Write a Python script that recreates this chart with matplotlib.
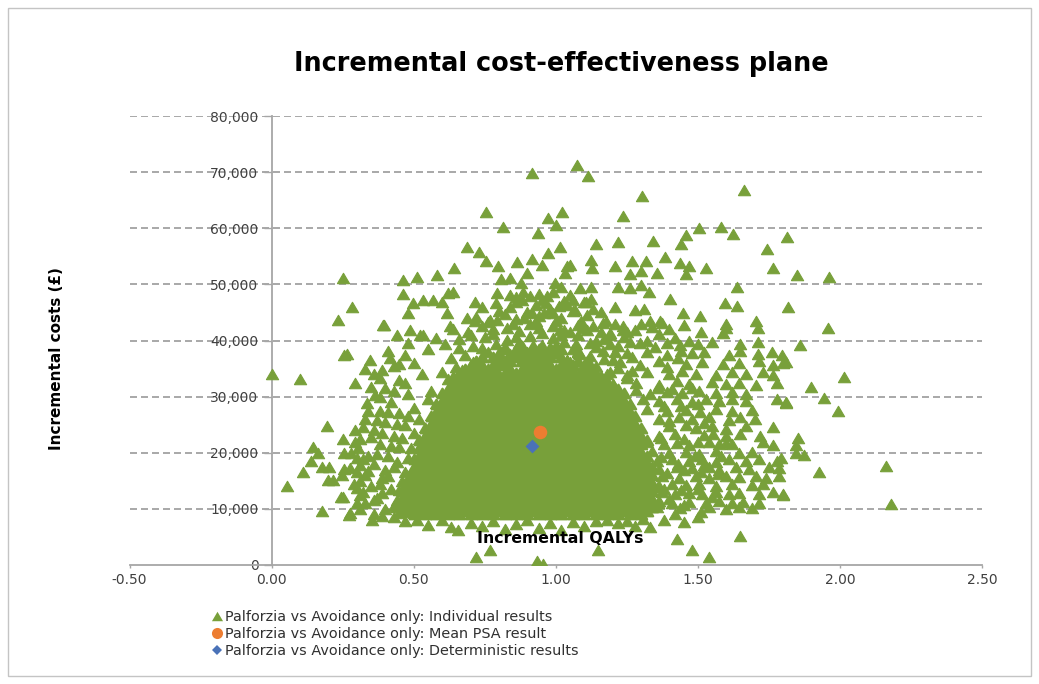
import matplotlib
matplotlib.use("Agg")
import matplotlib.pyplot as plt
from matplotlib.ticker import FuncFormatter, MultipleLocator
from matplotlib.lines import Line2D
from matplotlib.patches import Rectangle

GREEN = "#78a03a"
ORANGE = "#ed7d31"
BLUE = "#4a72b8"
TEXT = "#404040"

# PSA iterations: (incremental QALYs, incremental cost in £ thousands)
upper_sims = [
    (1.074, 71.3), (1.112, 69.3), (0.915, 69.8), (0.753, 62.9), (0.813, 60.3), (1.023, 62.9),
    (0.974, 61.8), (1.002, 60.5), (0.939, 59.1), (1.303, 65.8), (1.661, 66.8), (1.237, 62.2),
    (1.581, 60.3), (1.503, 60.1), (1.623, 58.9), (1.459, 58.8), (1.815, 58.5), (1.743, 56.3),
    (1.764, 52.9), (1.848, 51.7), (1.963, 51.4), (1.143, 57.2), (1.219, 57.6), (1.342, 57.8),
    (1.442, 57.2), (1.383, 54.8), (1.527, 53.0), (1.639, 49.6), (1.817, 45.9), (1.957, 42.2),
    (1.596, 46.6), (1.639, 46.2), (1.207, 53.2), (1.270, 54.1), (1.316, 54.1), (1.301, 52.3),
    (1.260, 51.9), (1.356, 52.0), (1.436, 53.8), (1.469, 53.2), (1.457, 51.9), (1.123, 54.4),
    (1.049, 53.5), (1.032, 52.0), (1.129, 52.9), (1.014, 56.7), (0.252, 51.1), (0.284, 46.0),
    (0.233, 43.7), (0.463, 50.7), (0.510, 51.3), (0.581, 51.6), (0.643, 52.9), (0.686, 56.7),
    (0.730, 55.7), (0.754, 54.1), (0.797, 53.2), (0.862, 54.0), (0.915, 54.5), (0.973, 55.6),
    (0.950, 53.5), (1.038, 53.2), (0.463, 48.3), (0.498, 46.6), (0.481, 44.9), (0.397, 42.8),
    (0.440, 41.0), (0.487, 41.9), (0.534, 47.2), (0.569, 47.2), (0.598, 46.8), (0.621, 48.4),
    (0.639, 48.7), (0.715, 46.8), (0.739, 45.9), (0.686, 44.0), (0.715, 43.4), (0.792, 48.4),
    (0.838, 48.1), (0.860, 47.8), (0.899, 52.0), (0.806, 51.0), (0.838, 51.2), (0.879, 50.3),
    (0.885, 48.7), (0.941, 48.3), (0.967, 46.6), (0.996, 50.3), (1.020, 49.6), (1.061, 47.2),
    (0.792, 43.7), (0.616, 44.9), (0.627, 42.5), (0.915, 44.9), (0.932, 43.4), (0.990, 44.9),
    (1.014, 41.9), (0.534, 41.0), (1.401, 47.4), (1.366, 43.4), (1.448, 44.9), (1.506, 44.4),
    (1.600, 42.2), (1.705, 43.4), (1.207, 46.0), (1.278, 45.5), (1.310, 45.7), (1.330, 43.4),
    (1.237, 41.9), (1.178, 43.4), (1.108, 46.9), (1.125, 47.4), (1.067, 45.5), (1.084, 49.3),
    (1.125, 49.6), (1.219, 49.6), (1.260, 49.3), (1.300, 49.9), (1.328, 48.7), (1.110, 41.9),
    (1.280, 41.9), (1.510, 41.5), (1.400, 42.0),
]

upper_core_sims = [
    (0.60, 34.3), (0.65, 35.2), (0.69, 33.9), (0.73, 35.6), (0.77, 34.4), (0.81, 35.9),
    (0.85, 34.1), (0.89, 35.4), (0.93, 34.6), (0.97, 35.8), (1.01, 34.2), (1.05, 35.3),
    (1.09, 34.7), (1.14, 35.5), (1.18, 34.0), (1.22, 35.1), (1.27, 34.6),
    (0.63, 36.9), (0.68, 37.5), (0.72, 36.4), (0.76, 38.0), (0.80, 36.8), (0.84, 37.6),
    (0.88, 36.5), (0.92, 38.2), (0.96, 37.0), (1.00, 37.7), (1.04, 36.6), (1.08, 38.1),
    (1.12, 37.2), (1.17, 36.7), (1.21, 38.0), (1.27, 37.0),
    (0.61, 39.4), (0.66, 40.2), (0.71, 39.0), (0.75, 40.6), (0.79, 39.3), (0.83, 40.1),
    (0.87, 39.6), (0.91, 40.8), (0.95, 39.2), (0.99, 40.4), (1.03, 39.7), (1.08, 40.9),
    (1.12, 39.5), (1.17, 40.3), (1.22, 39.1),
    (0.64, 42.0), (0.69, 41.5), (0.74, 42.6), (0.78, 41.2), (0.83, 42.3), (0.87, 41.7),
    (0.91, 42.9), (0.95, 41.4), (0.99, 42.5), (1.03, 41.8), (1.08, 42.7), (1.16, 41.6),
    (1.21, 42.9),
    (0.72, 44.2), (0.77, 43.6), (0.82, 44.8), (0.86, 43.9), (0.90, 45.1), (0.94, 44.4),
    (0.98, 45.6), (1.02, 44.0), (1.06, 45.3), (1.11, 44.6), (1.16, 45.0),
    (0.79, 46.6), (0.84, 45.9), (0.88, 47.2), (0.93, 46.4), (0.97, 47.9), (1.01, 46.2),
    (1.05, 48.1), (1.10, 46.9),
    (0.62, 33.2), (0.67, 34.8), (0.71, 36.2), (0.75, 33.4), (0.79, 35.0), (0.83, 36.9),
    (0.87, 33.6), (0.91, 35.0), (0.95, 36.3), (0.99, 33.5), (1.03, 36.0), (1.07, 33.8),
    (1.11, 36.4), (1.16, 33.6), (1.20, 36.5), (1.25, 33.3),
    (0.66, 38.6), (0.70, 41.0), (0.74, 38.7), (0.78, 42.0), (0.82, 38.8), (0.86, 40.7),
    (0.90, 38.0), (0.94, 42.3), (0.98, 38.9), (1.02, 41.0), (1.06, 38.5), (1.10, 42.2),
    (1.14, 38.9), (1.19, 41.3), (1.24, 40.6),
    (0.76, 43.3), (0.80, 45.2), (0.85, 43.0), (0.89, 44.0), (0.93, 43.1), (0.96, 44.9),
    (1.00, 43.4), (1.04, 46.3), (1.09, 43.5), (1.13, 45.7),
    (0.86, 46.9), (0.91, 48.0), (0.95, 47.3), (0.99, 48.6), (1.03, 47.0),
]

right_sims = [
    (1.13, 42.6), (1.165, 43.1), (1.235, 42.5), (1.30, 43.0), (1.34, 42.4), (1.375, 43.2),
    (1.453, 42.7), (1.60, 42.9), (1.71, 42.3), (1.05, 41.5), (1.19, 41.0), (1.25, 41.6),
    (1.365, 41.1), (1.587, 41.4), (1.07, 39.4), (1.14, 39.9), (1.19, 39.3), (1.26, 39.8),
    (1.295, 39.5), (1.32, 40.0), (1.39, 39.6), (1.436, 39.2), (1.47, 39.9), (1.50, 39.4),
    (1.55, 39.7), (1.65, 39.3), (1.71, 39.8), (1.085, 37.6), (1.165, 38.1), (1.25, 37.7),
    (1.32, 38.0), (1.39, 37.5), (1.44, 38.2), (1.48, 37.7), (1.52, 37.9), (1.61, 37.5),
    (1.65, 38.1), (1.71, 37.6), (1.76, 38.0), (1.795, 37.4), (1.05, 36.2), (1.12, 35.8),
    (1.225, 36.1), (1.295, 35.7), (1.365, 36.3), (1.46, 35.9), (1.515, 36.2), (1.587, 35.8),
    (1.646, 36.0), (1.717, 36.3), (1.763, 35.7), (1.812, 36.1), (1.085, 34.0), (1.19, 34.4),
    (1.25, 33.9), (1.32, 34.3), (1.40, 34.0), (1.446, 34.5), (1.495, 34.1), (1.565, 33.9),
    (1.62, 34.4), (1.67, 34.0), (1.73, 34.3), (1.763, 33.8), (1.13, 32.6), (1.20, 32.2),
    (1.284, 32.5), (1.365, 32.1), (1.425, 32.7), (1.47, 32.3), (1.55, 32.6), (1.60, 32.2),
    (1.646, 32.5), (1.705, 32.0), (1.777, 32.4), (1.04, 30.6), (1.11, 31.0), (1.19, 30.7),
    (1.284, 31.1), (1.33, 30.5), (1.39, 30.9), (1.446, 30.6), (1.505, 31.0), (1.565, 30.7),
    (1.62, 30.9), (1.67, 30.5), (1.306, 29.6), (1.365, 29.2), (1.425, 29.5), (1.48, 29.1),
    (1.53, 29.6), (1.576, 29.3), (1.62, 29.5), (1.67, 29.2), (1.777, 29.6), (1.81, 29.0),
    (1.32, 27.8), (1.39, 27.4), (1.46, 27.7), (1.506, 27.3), (1.565, 27.8), (1.62, 27.5),
    (1.69, 27.7), (1.365, 26.0), (1.435, 26.4), (1.48, 26.1), (1.54, 26.3), (1.61, 25.9),
    (1.65, 26.4), (1.70, 26.0), (1.40, 24.8), (1.495, 24.4), (1.55, 24.7), (1.60, 24.3),
    (1.67, 24.8), (1.763, 24.5), (1.365, 23.0), (1.42, 23.4), (1.52, 23.1), (1.555, 23.4),
    (1.60, 22.9), (1.65, 23.3), (1.72, 23.0), (1.32, 21.9), (1.38, 21.5), (1.425, 21.8),
    (1.47, 21.4), (1.54, 21.9), (1.576, 21.5), (1.60, 21.8), (1.62, 21.6), (1.73, 21.9),
    (1.763, 21.4), (1.34, 20.3), (1.40, 19.9), (1.46, 20.2), (1.505, 19.8), (1.565, 20.3),
    (1.646, 20.0), (1.69, 20.2), (1.355, 18.5), (1.41, 18.9), (1.47, 18.6), (1.515, 18.8),
    (1.565, 18.4), (1.61, 18.9), (1.67, 18.5), (1.717, 18.8), (1.777, 18.6), (1.365, 17.1),
    (1.425, 17.5), (1.48, 17.2), (1.54, 17.4), (1.576, 17.0), (1.635, 17.5), (1.68, 17.1),
    (1.75, 17.4), (1.787, 17.2), (1.375, 15.9), (1.435, 15.5), (1.495, 15.8), (1.54, 15.5),
    (1.60, 15.9), (1.646, 15.6), (1.705, 15.9), (1.74, 15.5), (1.787, 15.8), (1.365, 14.1),
    (1.41, 14.5), (1.46, 14.2), (1.505, 14.4), (1.565, 14.0), (1.62, 14.5), (1.69, 14.2),
    (1.73, 14.4), (1.375, 13.0), (1.42, 12.6), (1.47, 12.9), (1.515, 12.6), (1.565, 13.0),
    (1.61, 12.7), (1.646, 12.9), (1.717, 12.6), (1.763, 13.0), (1.80, 12.7), (1.365, 11.4),
    (1.41, 11.0), (1.47, 11.3), (1.53, 11.0), (1.576, 11.4), (1.62, 11.1), (1.66, 11.3),
    (1.717, 11.0), (1.284, 10.0), (1.355, 10.4), (1.436, 10.1), (1.54, 10.3), (1.60, 10.0),
    (1.646, 10.4), (1.69, 10.1), (1.18, 8.0), (1.25, 7.8), (1.306, 8.2), (1.38, 8.0),
    (1.45, 7.7), (1.858, 39.2), (1.799, 36.0), (2.013, 33.5), (1.899, 31.7), (1.945, 29.7),
    (1.811, 28.9), (1.994, 27.5), (1.852, 22.6), (1.846, 21.4), (1.872, 19.6), (1.846, 19.9),
    (1.793, 19.0), (1.926, 16.5), (2.162, 17.7), (2.180, 10.8), (1.801, 12.5),
    (1.37, 19.3), (1.43, 18.0), (1.49, 19.4), (1.52, 17.9), (1.58, 19.5), (1.39, 16.4),
    (1.45, 16.9), (1.51, 16.6), (1.57, 16.3), (1.38, 13.6), (1.44, 13.3), (1.50, 13.6),
    (1.55, 12.2), (1.40, 11.8), (1.45, 10.7), (1.51, 9.5), (1.42, 9.0), (1.37, 22.6),
    (1.45, 22.5), (1.50, 22.0), (1.40, 25.6), (1.46, 24.9), (1.52, 25.3), (1.38, 28.4),
    (1.44, 28.3), (1.50, 28.6), (1.36, 31.6), (1.41, 31.4), (1.48, 31.5), (1.39, 35.2),
    (1.43, 36.8), (1.35, 38.9), (1.42, 40.5),
]

left_sims = [
    (0.000, 34.0), (0.100, 33.2), (0.264, 37.6), (0.255, 37.5), (0.293, 32.4), (0.194, 24.7),
    (0.250, 22.4), (0.293, 22.0), (0.147, 21.1), (0.165, 20.0), (0.138, 18.5), (0.112, 16.6),
    (0.176, 17.5), (0.202, 17.5), (0.255, 19.9), (0.255, 17.1), (0.247, 16.0), (0.200, 15.2),
    (0.217, 15.2), (0.053, 14.1), (0.244, 12.2), (0.176, 9.7), (0.273, 8.9), (0.293, 24.1),
    (0.30, 19.0), (0.31, 17.8), (0.30, 16.5), (0.31, 15.0), (0.30, 13.8), (0.31, 12.5),
    (0.30, 11.0), (0.31, 10.0), (0.393, 42.8), (0.522, 41.0), (0.346, 36.5), (0.416, 36.8),
    (0.381, 33.3), (0.364, 30.3), (0.335, 28.8), (0.305, 20.8), (0.276, 17.2), (0.276, 9.2),
    (0.352, 8.0), (0.44, 10.4), (0.51, 8.0), (0.252, 12.2), (0.33, 35.0), (0.36, 34.0),
    (0.43, 35.5), (0.47, 37.5), (0.50, 36.0), (0.45, 33.0), (0.40, 31.5), (0.48, 30.5),
    (0.42, 29.0), (0.38, 27.5), (0.45, 27.0), (0.50, 28.0), (0.33, 26.0), (0.40, 25.5),
    (0.47, 25.0), (0.36, 24.0), (0.43, 23.0), (0.50, 23.5), (0.31, 22.5), (0.38, 21.5),
    (0.45, 21.0), (0.34, 19.5), (0.41, 19.5), (0.48, 19.0), (0.36, 18.0), (0.43, 17.5),
    (0.50, 17.0), (0.33, 16.0), (0.39, 15.5), (0.46, 15.0), (0.35, 14.0), (0.42, 13.5),
    (0.49, 13.0), (0.37, 12.0), (0.44, 11.5), (0.33, 11.0), (0.40, 10.0), (0.47, 9.5),
    (0.36, 9.0), (0.43, 8.5), (0.29, 14.5), (0.28, 20.0), (0.55, 38.5), (0.58, 40.5),
    (0.53, 34.0), (0.56, 31.0), (0.52, 26.0), (0.55, 29.5),
    (0.32, 24.5), (0.35, 22.8), (0.39, 23.6), (0.42, 21.2), (0.46, 22.6), (0.49, 20.8),
    (0.32, 18.8), (0.37, 19.8), (0.40, 17.0), (0.44, 18.4), (0.47, 16.5), (0.34, 16.8),
    (0.38, 14.5), (0.41, 15.8), (0.45, 13.4), (0.48, 14.6), (0.32, 13.0), (0.36, 11.5),
    (0.39, 12.8), (0.43, 10.6), (0.46, 11.9), (0.39, 8.8), (0.45, 9.2), (0.34, 27.5),
    (0.37, 25.8), (0.41, 27.3), (0.44, 25.2), (0.48, 26.6), (0.35, 31.8), (0.38, 30.0),
    (0.43, 31.0), (0.47, 32.5), (0.39, 34.8), (0.45, 35.8), (0.41, 38.2), (0.48, 39.5),
]

lower_sims = [
    (0.47, 7.8), (0.55, 7.2), (0.60, 8.1), (0.633, 6.8), (0.657, 6.2), (0.70, 7.5),
    (0.74, 6.9), (0.78, 7.8), (0.82, 6.5), (0.86, 7.3), (0.90, 8.0), (0.94, 6.6),
    (0.98, 7.4), (1.02, 6.2), (1.06, 7.7), (1.10, 6.9), (1.14, 7.9), (1.22, 7.4),
    (1.28, 7.0), (1.33, 6.8), (1.50, 8.5), (0.721, 1.5), (0.768, 2.7), (0.935, 0.8),
    (0.955, 0.2), (1.149, 2.7), (1.426, 4.7), (1.479, 2.7), (1.539, 1.4), (1.649, 5.2),
]

# dense centre of the cloud, listed row by row: (cost £k, QALYs on that row)
core_rows = [
    (9.0, [0.50, 0.54, 0.58, 0.62, 0.66, 0.70, 0.74, 0.78, 0.82, 0.86, 0.90, 0.94, 0.98, 1.02, 1.06, 1.10, 1.14, 1.18, 1.22, 1.26, 1.30]),
    (9.7, [0.48, 0.52, 0.56, 0.60, 0.64, 0.68, 0.72, 0.76, 0.80, 0.84, 0.88, 0.92, 0.96, 1.00, 1.04, 1.08, 1.12, 1.16, 1.20, 1.24, 1.28, 1.32]),
    (10.4, [0.46, 0.50, 0.54, 0.58, 0.62, 0.66, 0.70, 0.74, 0.78, 0.82, 0.86, 0.90, 0.94, 0.98, 1.02, 1.06, 1.10, 1.14, 1.18, 1.22, 1.26, 1.30, 1.34]),
    (11.1, [0.48, 0.52, 0.56, 0.60, 0.64, 0.68, 0.72, 0.76, 0.80, 0.84, 0.88, 0.92, 0.96, 1.00, 1.04, 1.08, 1.12, 1.16, 1.20, 1.24, 1.28, 1.32, 1.36]),
    (11.8, [0.46, 0.50, 0.54, 0.58, 0.62, 0.66, 0.70, 0.74, 0.78, 0.82, 0.86, 0.90, 0.94, 0.98, 1.02, 1.06, 1.10, 1.14, 1.18, 1.22, 1.26, 1.30, 1.34]),
    (12.5, [0.48, 0.52, 0.56, 0.60, 0.64, 0.68, 0.72, 0.76, 0.80, 0.84, 0.88, 0.92, 0.96, 1.00, 1.04, 1.08, 1.12, 1.16, 1.20, 1.24, 1.28, 1.32]),
    (13.2, [0.46, 0.50, 0.54, 0.58, 0.62, 0.66, 0.70, 0.74, 0.78, 0.82, 0.86, 0.90, 0.94, 0.98, 1.02, 1.06, 1.10, 1.14, 1.18, 1.22, 1.26, 1.30, 1.34]),
    (13.9, [0.48, 0.52, 0.56, 0.60, 0.64, 0.68, 0.72, 0.76, 0.80, 0.84, 0.88, 0.92, 0.96, 1.00, 1.04, 1.08, 1.12, 1.16, 1.20, 1.24, 1.28, 1.32, 1.36]),
    (14.6, [0.50, 0.54, 0.58, 0.62, 0.66, 0.70, 0.74, 0.78, 0.82, 0.86, 0.90, 0.94, 0.98, 1.02, 1.06, 1.10, 1.14, 1.18, 1.22, 1.26, 1.30, 1.34]),
    (15.3, [0.48, 0.52, 0.56, 0.60, 0.64, 0.68, 0.72, 0.76, 0.80, 0.84, 0.88, 0.92, 0.96, 1.00, 1.04, 1.08, 1.12, 1.16, 1.20, 1.24, 1.28, 1.32]),
    (16.0, [0.50, 0.54, 0.58, 0.62, 0.66, 0.70, 0.74, 0.78, 0.82, 0.86, 0.90, 0.94, 0.98, 1.02, 1.06, 1.10, 1.14, 1.18, 1.22, 1.26, 1.30, 1.34]),
    (16.7, [0.52, 0.56, 0.60, 0.64, 0.68, 0.72, 0.76, 0.80, 0.84, 0.88, 0.92, 0.96, 1.00, 1.04, 1.08, 1.12, 1.16, 1.20, 1.24, 1.28, 1.32]),
    (17.4, [0.50, 0.54, 0.58, 0.62, 0.66, 0.70, 0.74, 0.78, 0.82, 0.86, 0.90, 0.94, 0.98, 1.02, 1.06, 1.10, 1.14, 1.18, 1.22, 1.26, 1.30, 1.34]),
    (18.1, [0.52, 0.56, 0.60, 0.64, 0.68, 0.72, 0.76, 0.80, 0.84, 0.88, 0.92, 0.96, 1.00, 1.04, 1.08, 1.12, 1.16, 1.20, 1.24, 1.28, 1.32]),
    (18.8, [0.50, 0.54, 0.58, 0.62, 0.66, 0.70, 0.74, 0.78, 0.82, 0.86, 0.90, 0.94, 0.98, 1.02, 1.06, 1.10, 1.14, 1.18, 1.22, 1.26, 1.30]),
    (19.5, [0.52, 0.56, 0.60, 0.64, 0.68, 0.72, 0.76, 0.80, 0.84, 0.88, 0.92, 0.96, 1.00, 1.04, 1.08, 1.12, 1.16, 1.20, 1.24, 1.28, 1.32]),
    (20.2, [0.54, 0.58, 0.62, 0.66, 0.70, 0.74, 0.78, 0.82, 0.86, 0.90, 0.94, 0.98, 1.02, 1.06, 1.10, 1.14, 1.18, 1.22, 1.26, 1.30]),
    (20.9, [0.52, 0.56, 0.60, 0.64, 0.68, 0.72, 0.76, 0.80, 0.84, 0.88, 0.92, 0.96, 1.00, 1.04, 1.08, 1.12, 1.16, 1.20, 1.24, 1.28]),
    (21.6, [0.54, 0.58, 0.62, 0.66, 0.70, 0.74, 0.78, 0.82, 0.86, 0.90, 0.94, 0.98, 1.02, 1.06, 1.10, 1.14, 1.18, 1.22, 1.26, 1.30]),
    (22.3, [0.52, 0.56, 0.60, 0.64, 0.68, 0.72, 0.76, 0.80, 0.84, 0.88, 0.92, 0.96, 1.00, 1.04, 1.08, 1.12, 1.16, 1.20, 1.24, 1.28, 1.32]),
    (23.0, [0.54, 0.58, 0.62, 0.66, 0.70, 0.74, 0.78, 0.82, 0.86, 0.90, 0.94, 0.98, 1.02, 1.06, 1.10, 1.14, 1.18, 1.22, 1.26, 1.30]),
    (23.7, [0.56, 0.60, 0.64, 0.68, 0.72, 0.76, 0.80, 0.84, 0.88, 0.92, 0.96, 1.00, 1.04, 1.08, 1.12, 1.16, 1.20, 1.24, 1.28]),
    (24.4, [0.54, 0.58, 0.62, 0.66, 0.70, 0.74, 0.78, 0.82, 0.86, 0.90, 0.94, 0.98, 1.02, 1.06, 1.10, 1.14, 1.18, 1.22, 1.26, 1.30]),
    (25.1, [0.56, 0.60, 0.64, 0.68, 0.72, 0.76, 0.80, 0.84, 0.88, 0.92, 0.96, 1.00, 1.04, 1.08, 1.12, 1.16, 1.20, 1.24, 1.28]),
    (25.8, [0.58, 0.62, 0.66, 0.70, 0.74, 0.78, 0.82, 0.86, 0.90, 0.94, 0.98, 1.02, 1.06, 1.10, 1.14, 1.18, 1.22, 1.26]),
    (26.5, [0.56, 0.60, 0.64, 0.68, 0.72, 0.76, 0.80, 0.84, 0.88, 0.92, 0.96, 1.00, 1.04, 1.08, 1.12, 1.16, 1.20, 1.24, 1.28]),
    (27.2, [0.58, 0.62, 0.66, 0.70, 0.74, 0.78, 0.82, 0.86, 0.90, 0.94, 0.98, 1.02, 1.06, 1.10, 1.14, 1.18, 1.22, 1.26]),
    (27.9, [0.60, 0.64, 0.68, 0.72, 0.76, 0.80, 0.84, 0.88, 0.92, 0.96, 1.00, 1.04, 1.08, 1.12, 1.16, 1.20, 1.24]),
    (28.6, [0.58, 0.62, 0.66, 0.70, 0.74, 0.78, 0.82, 0.86, 0.90, 0.94, 0.98, 1.02, 1.06, 1.10, 1.14, 1.18, 1.22, 1.26]),
    (29.3, [0.60, 0.64, 0.68, 0.72, 0.76, 0.80, 0.84, 0.88, 0.92, 0.96, 1.00, 1.04, 1.08, 1.12, 1.16, 1.20, 1.24]),
    (30.0, [0.62, 0.66, 0.70, 0.74, 0.78, 0.82, 0.86, 0.90, 0.94, 0.98, 1.02, 1.06, 1.10, 1.14, 1.18, 1.22]),
    (30.7, [0.60, 0.64, 0.68, 0.72, 0.76, 0.80, 0.84, 0.88, 0.92, 0.96, 1.00, 1.04, 1.08, 1.12, 1.16, 1.20, 1.24]),
    (31.4, [0.62, 0.66, 0.70, 0.74, 0.78, 0.82, 0.86, 0.90, 0.94, 0.98, 1.02, 1.06, 1.10, 1.14, 1.18, 1.22]),
    (32.1, [0.64, 0.68, 0.72, 0.76, 0.80, 0.84, 0.88, 0.92, 0.96, 1.00, 1.04, 1.08, 1.12, 1.16, 1.20]),
    (32.8, [0.66, 0.70, 0.74, 0.78, 0.82, 0.86, 0.90, 0.94, 0.98, 1.02, 1.06, 1.10, 1.14, 1.18]),
    (33.5, [0.64, 0.68, 0.72, 0.76, 0.80, 0.84, 0.88, 0.92, 0.96, 1.00, 1.04, 1.08, 1.12, 1.16]),
    (34.2, [0.66, 0.70, 0.74, 0.78, 0.82, 0.86, 0.90, 0.94, 0.98, 1.02, 1.06, 1.10, 1.14]),
    (34.9, [0.68, 0.72, 0.76, 0.84, 0.88, 0.92, 0.96, 1.00, 1.04, 1.12]),
    (35.6, [0.70, 0.74, 0.78, 0.82, 0.90, 0.94, 0.98, 1.02, 1.06, 1.10]),
    (36.3, [0.72, 0.80, 0.84, 0.88, 0.92, 0.96, 1.04, 1.08]),
    (37.0, [0.74, 0.78, 0.86, 0.90, 0.94, 0.98, 1.02]),
    (37.7, [0.80, 0.88, 0.92, 0.96, 1.00, 1.08]),
    (38.4, [0.82, 0.86, 0.94, 0.98, 1.02]),
    (39.1, [0.88, 0.92, 1.00]),
]

mean_psa = (0.946, 23650)
deterministic = (0.917, 21200)

legend_labels = [
    "Palforzia vs Avoidance only: Individual results",
    "Palforzia vs Avoidance only: Mean PSA result",
    "Palforzia vs Avoidance only: Deterministic results",
]

# scattered iterations as plain QALY / cost (£) lists
qaly, cost = [], []
for group in (left_sims, lower_sims, right_sims, upper_core_sims, upper_sims):
    for q, c in group:
        qaly.append(q)
        cost.append(c * 1000)

# the tightly packed centre of the cloud
core_qaly, core_cost = [], []
for c, row in core_rows:
    for q in row:
        core_qaly.append(q)
        core_cost.append(c * 1000)

W, H = 1039, 684
fig = plt.figure(figsize=(W / 100, H / 100), dpi=100)
fig.patch.set_facecolor("white")
ax = fig.add_axes([129.5 / W, 1 - 565 / H, (982 - 129.5) / W, (565 - 116) / H])

x_min, x_max = -0.5, 2.5
y_ticks = list(range(0, 80001, 10000))

# dashed horizontal gridlines, kept underneath the markers
ax.hlines(y_ticks[1:], x_min, x_max, colors="#9a9a9a", linewidth=1.2,
          linestyles=[(0, (4.2, 2.4))], zorder=0.5)

# flattened triangle marker
tri = [(-1.0, -0.85), (1.0, -0.85), (0.0, 0.85), (-1.0, -0.85)]
# packed centre: no antialiasing and a wider outline so touching markers leave no seams
ax.scatter(core_qaly, core_cost, marker=tri, s=66, facecolor=GREEN, edgecolor=GREEN,
           linewidths=1.6, antialiased=False, zorder=3)
ax.scatter(qaly, cost, marker=tri, s=78, facecolor=GREEN, edgecolor=GREEN,
           linewidths=0.8, zorder=3.1)
ax.scatter([mean_psa[0]], [mean_psa[1]], marker="o", s=95, color=ORANGE, linewidths=0, zorder=5)
ax.scatter([deterministic[0]], [deterministic[1]], marker="D", s=50, color=BLUE, linewidths=0, zorder=6)

ax.set_xlim(x_min, x_max)
ax.set_ylim(0, 80000)
ax.xaxis.set_major_locator(MultipleLocator(0.5))
ax.set_yticks(y_ticks)
ax.xaxis.set_major_formatter(FuncFormatter(lambda v, p: f"{v:.2f}"))
ax.yaxis.set_major_formatter(FuncFormatter(lambda v, p: f"{int(round(v)):,}"))

for side in ("top", "right"):
    ax.spines[side].set_visible(False)
ax.spines["left"].set_position(("data", 0))
for side in ("left", "bottom"):
    ax.spines[side].set_color("#a6a6a6")
    ax.spines[side].set_linewidth(1.3)
    ax.spines[side].set_zorder(2)

ax.tick_params(axis="y", direction="out", length=6, width=1.0, color="#a6a6a6",
               labelsize=10, labelcolor=TEXT, pad=3.5)
ax.tick_params(axis="x", direction="out", length=2.5, width=1.0, color="#a6a6a6",
               labelsize=10, labelcolor=TEXT, pad=3)
ax.grid(False)

ax.text(0.505, 0.06, "Incremental QALYs", transform=ax.transAxes, ha="center", va="center",
        fontsize=11.3, fontweight="bold", color="black", zorder=10)

fig.text(57 / W, 1 - 359 / H, "Incremental costs (£)", rotation=90, ha="center", va="center",
         fontsize=11, fontweight="bold", color="black")
fig.text(561 / W, 1 - 64 / H, "Incremental cost-effectiveness plane", ha="center", va="center",
         fontsize=18.4, fontweight="bold", color="black")

handles = [
    Line2D([], [], linestyle="none", marker=tri, markersize=8, color=GREEN, markeredgewidth=0),
    Line2D([], [], linestyle="none", marker="o", markersize=8, color=ORANGE, markeredgewidth=0),
    Line2D([], [], linestyle="none", marker="D", markersize=5, color=BLUE, markeredgewidth=0),
]
fig.legend(handles, legend_labels, loc="upper left", bbox_to_anchor=(211 / W, 1 - 610 / H),
           frameon=False, fontsize=10.4, handlelength=0.8, handletextpad=0.2,
           labelspacing=0.2, borderpad=0, borderaxespad=0, labelcolor="#303030")

fig.patches.append(Rectangle((8 / W, 8 / H), (1031 - 8) / W, (676 - 8) / H,
                             transform=fig.transFigure, fill=False,
                             edgecolor="#c4c4c4", linewidth=1.0))

fig.savefig("out.png", dpi=100, facecolor="white")
